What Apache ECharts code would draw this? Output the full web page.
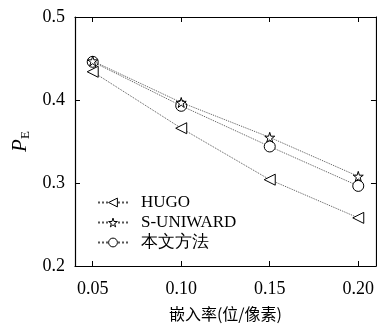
<!DOCTYPE html>
<html><head><meta charset="utf-8">
<script src="https://cdn.jsdelivr.net/npm/echarts@6/dist/echarts.min.js"></script>
<style>html,body{margin:0;padding:0;background:#fff}#c{width:377px;height:327px}</style>
</head><body><div id="c"></div>
<script>
const xValues = [0.05, 0.10, 0.15, 0.20];
const hugo = [0.434, 0.366, 0.304, 0.258];
const suniward = [0.447, 0.397, 0.355, 0.308];
const ours = [0.446, 0.393, 0.344, 0.2965];
const seriesNames = ['HUGO', 'S-UNIWARD', '本文方法'];
const xTicks = [0.05, 0.10, 0.15, 0.20];
const yTicks = [0.2, 0.3, 0.4, 0.5];

const serif = 'Liberation Serif';
const starPath = 'path://M50,0 L61,35 L98,35 L68,57 L79,91 L50,70 L21,91 L32,57 L2,35 L39,35 Z';
function pts(arr){ return xValues.map((x,i)=>[x, arr[i]]); }
function mk(name, data, symbol, size, rot, z){
  return {
    name, type:'line', data: pts(data), symbol, symbolSize:size, symbolRotate: rot||0,
    showAllSymbol:true,
    lineStyle:{color:'#555', width:1, type:'dotted'},
    itemStyle:{color:'#fff', borderColor:'#000', borderWidth:1},
    emphasis:{disabled:true}, animation:false, z:z
  };
}
const chart = echarts.init(document.getElementById('c'));
chart.setOption({
  animation:false,
  grid:{left:75, top:17, right:0, bottom:59},
  legend:{
    left:92, top:189, orient:'vertical', itemGap:3, itemWidth:30, itemHeight:11,
    itemStyle:{color:'#fff', borderColor:'#000', borderWidth:1},
    textStyle:{fontFamily:serif, fontSize:17, color:'#000', padding:[0,0,0,8]},
    data: seriesNames
  },
  xAxis:[{
    type:'value', min:0.04, max:0.21,
    axisLine:{lineStyle:{color:'#000', width:1.2}},
    axisTick:{inside:true, length:5, customValues:xTicks, lineStyle:{color:'#000'}},
    axisLabel:{customValues:xTicks, formatter:v=>v.toFixed(2), fontFamily:serif, fontSize:18, color:'#000', margin:14},
    splitLine:{show:false},
    name:'嵌入率(位/像素)', nameLocation:'middle', nameGap:40,
    nameTextStyle:{fontFamily:'Noto Sans CJK SC', fontSize:16, color:'#000'}
  },{
    type:'value', min:0.04, max:0.21, position:'top',
    axisLine:{show:true, lineStyle:{color:'#000', width:1.2}},
    axisTick:{inside:true, length:5, customValues:xTicks, lineStyle:{color:'#000'}},
    axisLabel:{show:false}, splitLine:{show:false}
  }],
  yAxis:[{
    type:'value', min:0.2, max:0.5, interval:0.1,
    axisLine:{show:true, lineStyle:{color:'#000', width:1.2}},
    axisTick:{show:true, inside:true, length:5, lineStyle:{color:'#000'}},
    axisLabel:{formatter:v=>v.toFixed(1), fontFamily:serif, fontSize:18, color:'#000', margin:10},
    splitLine:{show:false},
    name:'{p|P}{s|E}', nameLocation:'middle', nameGap:42, nameRotate:90,
    nameTextStyle:{rich:{
      p:{fontFamily:serif, fontStyle:'italic', fontSize:21, color:'#000'},
      s:{fontFamily:serif, fontSize:13, color:'#000', padding:[9,0,0,0]}
    }}
  },{
    type:'value', min:0.2, max:0.5, interval:0.1, position:'right',
    axisLine:{show:true, lineStyle:{color:'#000', width:1.2}},
    axisTick:{show:true, inside:true, length:5, lineStyle:{color:'#000'}},
    axisLabel:{show:false}, splitLine:{show:false}
  }],
  series:[
    mk(seriesNames[0], hugo, 'triangle', 11, 90, 3),
    mk(seriesNames[2], ours, 'circle', 11, 0, 3),
    mk(seriesNames[1], suniward, starPath, 10, 0, 4)
  ]
});
</script></body></html>
